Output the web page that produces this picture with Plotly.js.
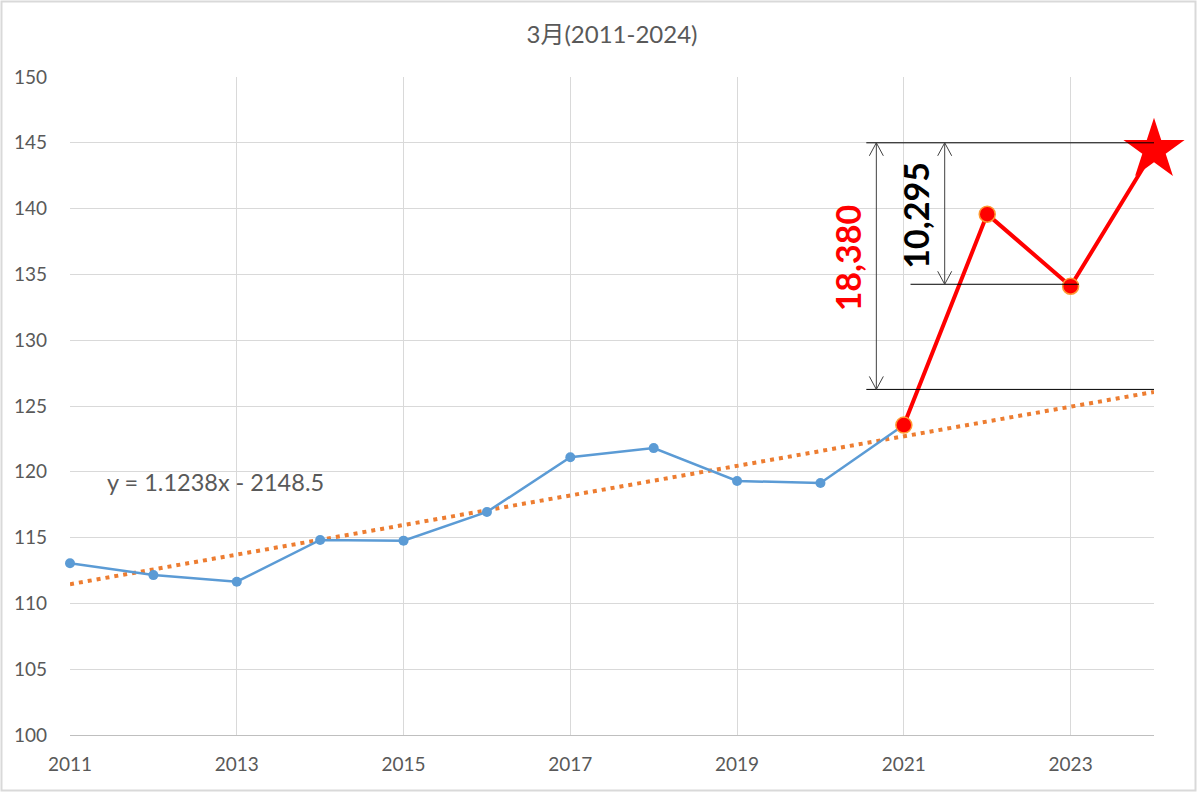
<!DOCTYPE html>
<html>
<head>
<meta charset="utf-8">
<script src="https://cdn.plot.ly/plotly-3.0.1.min.js"></script>
<style>html,body{margin:0;padding:0;background:#fff;}#chart{width:1200px;height:792px;}</style>
</head>
<body>
<div id="chart"></div>
<script>
// ---- data ----
const blueYears  = [2011, 2012, 2013, 2014, 2015, 2016, 2017, 2018, 2019, 2020, 2021];
const blueValues = [113.05, 112.15, 111.65, 114.82, 114.77, 116.95, 121.1, 121.8, 119.3, 119.15, 123.55];
const redYears   = [2021, 2022, 2023, 2024];
const redValues  = [123.55, 139.58, 134.1, 144.45];
const starYear   = [2024];
const starValue  = [144.45];
const trendYears  = [2011, 2024];          // dotted trendline end points
const trendValues = [111.46, 126.07];
const equationText = "y = 1.1238x - 2148.5";
const titleText = "3月(2011-2024)";
const diffTotalText = "18,380";
const diffLastText = "10,295";
// dimension-line levels (y values)
const levelTop = 145.0, levelMid = 134.25, levelBottom = 126.26;

const FONT = "Lato, 'Noto Sans CJK JP', sans-serif";
const GRAY = "#595959";

const traces = [
  {x: trendYears, y: trendValues, mode: 'lines', type: 'scatter', cliponaxis: false,
   line: {color: '#ED7D31', width: 4, dash: '4px,5px'}, hoverinfo: 'skip'},
  {x: blueYears, y: blueValues, mode: 'lines+markers', type: 'scatter', cliponaxis: false,
   line: {color: '#5B9BD5', width: 2.5}, marker: {color: '#5B9BD5', size: 10}},
  {x: redYears, y: redValues, mode: 'lines+markers', type: 'scatter', cliponaxis: false,
   line: {color: '#FF0000', width: 4}, marker: {color: '#FF0000', size: 16, line: {color: '#FF9933', width: 1.5}}},
  {x: starYear, y: starValue, mode: 'markers', type: 'scatter', cliponaxis: false,
   marker: {symbol: 'star', color: '#FF0000', size: 46, line: {width: 0}}}
];

function vArrow(x, yTop, yBot) {
  return [
    {type: 'line', xref: 'x', yref: 'y', x0: x, x1: x, y0: yTop, y1: yBot, line: {color: '#404040', width: 1}},
    {type: 'path', xref: 'x', yref: 'y', xsizemode: 'pixel', ysizemode: 'pixel', xanchor: x, yanchor: yTop,
     path: 'M-7,-13 L0,0 L7,-13', line: {color: '#404040', width: 1}},
    {type: 'path', xref: 'x', yref: 'y', xsizemode: 'pixel', ysizemode: 'pixel', xanchor: x, yanchor: yBot,
     path: 'M-7,13 L0,0 L7,13', line: {color: '#404040', width: 1}}
  ];
}

const shapes = [
  // chart frame
  {type: 'rect', xref: 'paper', yref: 'paper',
   x0: (1.5 - 70) / 1084, x1: (1195.5 - 70) / 1084, y0: (735 - 790.5) / 658, y1: (735 - 1.5) / 658,
   line: {color: '#D9D9D9', width: 2}, fillcolor: 'rgba(0,0,0,0)', layer: 'below'},
  // horizontal dimension lines
  {type: 'line', xref: 'x', yref: 'y', x0: 2020.55, x1: 2024, y0: levelTop, y1: levelTop, line: {color: '#000', width: 1}},
  {type: 'line', xref: 'x', yref: 'y', x0: 2021.08, x1: 2023.1, y0: levelMid, y1: levelMid, line: {color: '#000', width: 1}},
  {type: 'line', xref: 'x', yref: 'y', x0: 2020.55, x1: 2024, y0: levelBottom, y1: levelBottom, line: {color: '#000', width: 1}},
  ...vArrow(2020.67, levelTop, levelBottom),
  ...vArrow(2021.49, levelTop, levelMid)
];

const annotations = [
  {x: 2011.42, y: 119.22, xref: 'x', yref: 'y', text: equationText, showarrow: false,
   xanchor: 'left', yanchor: 'middle', font: {family: FONT, size: 23.5, color: GRAY}},
  {x: 2020.32, y: 136.23, xref: 'x', yref: 'y', text: '<b>' + diffTotalText + '</b>', showarrow: false,
   textangle: -90, xanchor: 'center', yanchor: 'middle', font: {family: FONT, size: 34, color: '#FF0000'}},
  {x: 2021.14, y: 139.5, xref: 'x', yref: 'y', text: '<b>' + diffLastText + '</b>', showarrow: false,
   textangle: -90, xanchor: 'center', yanchor: 'middle', font: {family: FONT, size: 34, color: '#000000'}}
];

const layout = {
  width: 1200, height: 792,
  margin: {l: 70, r: 46, t: 77, b: 57},
  paper_bgcolor: '#FFFFFF', plot_bgcolor: '#FFFFFF',
  showlegend: false,
  title: {text: titleText, font: {family: FONT, size: 24, color: GRAY},
          x: 0.5, xref: 'paper', y: 1 - 35 / 792, yref: 'container', xanchor: 'center', yanchor: 'middle'},
  xaxis: {range: [2011, 2024], tick0: 2011, dtick: 2, showgrid: true, gridcolor: '#D9D9D9', gridwidth: 1,
          zeroline: false, showline: true, linecolor: '#BFBFBF', linewidth: 1, ticks: '',
          tickfont: {family: FONT, size: 19, color: GRAY}, ticklabelstandoff: 12, fixedrange: true},
  yaxis: {range: [100, 150], dtick: 5, showgrid: true, gridcolor: '#D9D9D9', gridwidth: 1,
          zeroline: false, showline: false, ticks: '',
          tickfont: {family: FONT, size: 19, color: GRAY}, ticklabelstandoff: 22, fixedrange: true},
  shapes: shapes,
  annotations: annotations
};

Plotly.newPlot('chart', traces, layout, {displayModeBar: false, staticPlot: true});
</script>
</body>
</html>
